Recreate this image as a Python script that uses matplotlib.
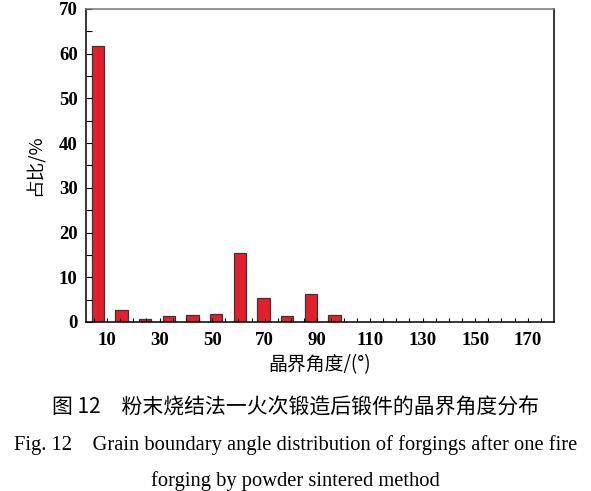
import matplotlib
matplotlib.use('Agg')
import matplotlib.pyplot as plt
import numpy as np

# grain boundary angle distribution (bin centres in degrees, share in %)
angles = [6.5, 15.5, 24.5, 33.5, 42.5, 51.5, 60.5, 69.5, 78.5, 87.5, 96.5]
share = [61.7, 2.6, 0.6, 1.3, 1.5, 1.7, 15.5, 5.4, 1.3, 6.3, 1.5]

xticks = [10, 30, 50, 70, 90, 110, 130, 150, 170]
yticks = [0, 10, 20, 30, 40, 50, 60, 70]

cap_cn = '图 12\u3000粉末烧结法一火次锻造后锻件的晶界角度分布'
cap_en1 = 'Fig. 12\u2003Grain boundary angle distribution of forgings after one fire'
cap_en2 = 'forging by powder sintered method'

cjk = ['Noto Sans CJK SC', 'DejaVu Sans']
serif = 'Liberation Serif'

fig = plt.figure(figsize=(5.91, 4.91), dpi=100)
ax = fig.add_axes([0.1455, 0.3442, 0.7919, 0.6375])

ax.bar(angles, share, width=4.6, color='#e41e2b', edgecolor='#2e3b3b', linewidth=0.9)

ax.set_xlim(2, 180)
ax.set_ylim(0, 70)
ax.set_xticks(xticks)
ax.set_xticks(np.arange(5, 180, 5), minor=True)
ax.set_yticks(yticks)
ax.set_yticks(np.arange(5, 70, 10), minor=True)
ax.tick_params(axis='both', which='both', direction='in', length=4, width=0.8)
ax.tick_params(axis='x', which='both', length=3)
ax.tick_params(axis='x', pad=7)
ax.tick_params(axis='y', pad=6)
for lab in ax.get_xticklabels() + ax.get_yticklabels():
    lab.set_fontfamily(serif)
    lab.set_fontsize(13.5)
    lab.set_fontweight('semibold')

for s in ['left', 'bottom', 'right']:
    ax.spines[s].set_linewidth(1.1)
    ax.spines[s].set_color('black')
ax.spines['top'].set_color('#777777')
ax.spines['top'].set_linewidth(1.1)

ax.set_xlabel('晶界角度/(°)', family=cjk, fontsize=13.6, labelpad=4)
ax.set_ylabel('占比/%', family=cjk, fontsize=13.4, labelpad=10)

fig.text(0.5, 1 - 408 / 491, cap_cn, family=cjk, fontsize=15, ha='center', va='center')
fig.text(0.5, 1 - 445 / 491, cap_en1, family=serif, fontsize=14.8, ha='center', va='center')
fig.text(0.5, 1 - 481 / 491, cap_en2, family=serif, fontsize=14.8, ha='center', va='center')

fig.savefig('out.png', dpi=100)
